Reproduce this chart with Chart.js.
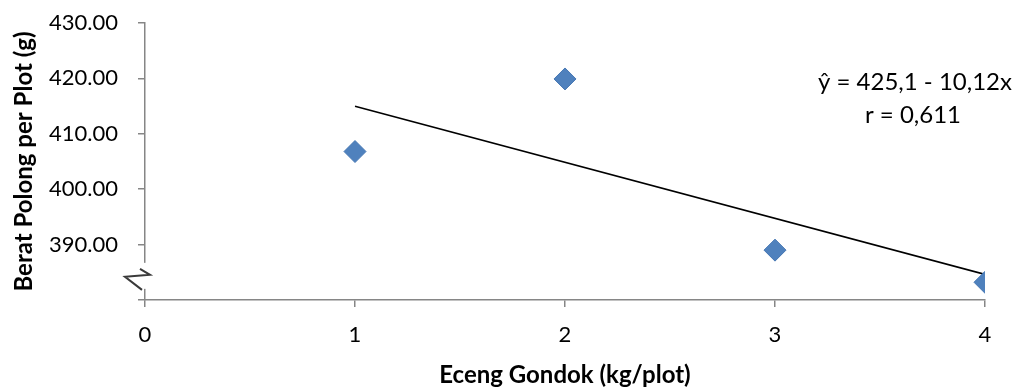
<!DOCTYPE html>
<html>
<head>
<meta charset="utf-8">
<script src="https://cdn.jsdelivr.net/npm/chart.js@4.4.0/dist/chart.umd.min.js"></script>
<style>
  html, body { margin: 0; padding: 0; background: #fff; }
  #wrap { width: 1022px; height: 387px; }
</style>
</head>
<body>
<div id="wrap"><canvas id="scatterChart" width="1022" height="387"></canvas></div>
<script>
// observed points
var dosis = [1, 2, 3, 4]
var beratPolong = [406.8, 419.9, 389.0, 383.2]

// trend line end points (y^ = 425,1 - 10,12x)
var trendX = [1, 4]
var trendY = [414.98, 384.62]

var yTicks = [380, 390, 400, 410, 420, 430]
var equationLines = ['\u0177 = 425,1 - 10,12x', 'r = 0,611']

var axisGray = '#868686'
var fontFamily = 'Lato, "Open Sans", sans-serif'

function toPoints(xs, ys) {
  return xs.map(function (x, i) { return { x: x, y: ys[i] } })
}

// little white gap + zigzag on the y axis
var axisBreak = {
  id: 'axisBreak',
  afterDraw: function (chart) {
    var ctx = chart.ctx
    var x0 = chart.scales.x.left
    var yc = chart.scales.y.getPixelForValue(384)
    ctx.save()
    ctx.fillStyle = '#fff'
    ctx.fillRect(x0 - 4, yc - 15, 8, 26)
    ctx.strokeStyle = '#3a3a3a'
    ctx.lineWidth = 2
    ctx.beginPath()
    ctx.moveTo(x0 - 5, yc - 9)
    ctx.lineTo(x0 + 5, yc - 3)
    ctx.lineTo(x0 - 20, yc - 1)
    ctx.lineTo(x0 - 3, yc + 12)
    ctx.stroke()
    ctx.restore()
  }
}

var equationText = {
  id: 'equationText',
  afterDraw: function (chart) {
    var ctx = chart.ctx
    ctx.save()
    ctx.fillStyle = '#000'
    ctx.font = '24px ' + fontFamily
    ctx.textAlign = 'center'
    ctx.textBaseline = 'middle'
    ctx.fillText(equationLines[0], 915, 82)
    ctx.fillText(equationLines[1], 913, 115)
    ctx.restore()
  }
}

new Chart(document.getElementById('scatterChart').getContext('2d'), {
  type: 'scatter',
  data: {
    datasets: [
      {
        label: 'Berat Polong',
        data: toPoints(dosis, beratPolong),
        pointStyle: 'rectRot',
        pointRadius: 11,
        pointHoverRadius: 11,
        backgroundColor: '#4F81BD',
        borderColor: '#4677B3',
        borderWidth: 1,
        order: 1
      },
      {
        label: 'Trend',
        type: 'line',
        data: toPoints(trendX, trendY),
        borderColor: '#000',
        borderWidth: 1.6,
        pointRadius: 0,
        fill: false,
        order: 2
      }
    ]
  },
  options: {
    responsive: false,
    animation: false,
    layout: { padding: { top: 23, right: 37, left: 0, bottom: 0 } },
    plugins: {
      legend: { display: false },
      tooltip: { enabled: false }
    },
    scales: {
      x: {
        type: 'linear',
        min: 0,
        max: 4,
        afterFit: function (scale) { scale.height = 87 },
        ticks: {
          stepSize: 1,
          color: '#000',
          padding: 15,
          font: { family: fontFamily, size: 22 }
        },
        grid: { drawOnChartArea: false, color: axisGray, lineWidth: 1.5, tickLength: 7 },
        border: { color: axisGray, width: 1.5 },
        title: {
          display: true,
          text: 'Eceng Gondok (kg/plot)',
          color: '#000',
          padding: { top: 0, bottom: 0 },
          font: { family: fontFamily, size: 24, weight: 'bold', lineHeight: 1 }
        }
      },
      y: {
        min: 380,
        max: 430,
        afterFit: function (scale) {
          scale.width = 145
          // keep the big label gap from pushing the plot down
          scale.paddingTop = 12
          scale.paddingBottom = 0
        },
        afterBuildTicks: function (scale) {
          scale.ticks = yTicks.map(function (v) { return { value: v } })
        },
        ticks: {
          color: '#000',
          padding: 20,
          font: { family: fontFamily, size: 22 },
          callback: function (v) { return v === 380 ? '' : v.toFixed(2) }
        },
        grid: { drawOnChartArea: false, color: axisGray, lineWidth: 1.5, tickLength: 7 },
        border: { color: axisGray, width: 1.5 },
        title: {
          display: true,
          text: 'Berat Polong per Plot (g)',
          color: '#000',
          padding: { top: 10, bottom: 0 },
          font: { family: fontFamily, size: 24, weight: 'bold' }
        }
      }
    }
  },
  plugins: [axisBreak, equationText]
})
</script>
</body>
</html>
